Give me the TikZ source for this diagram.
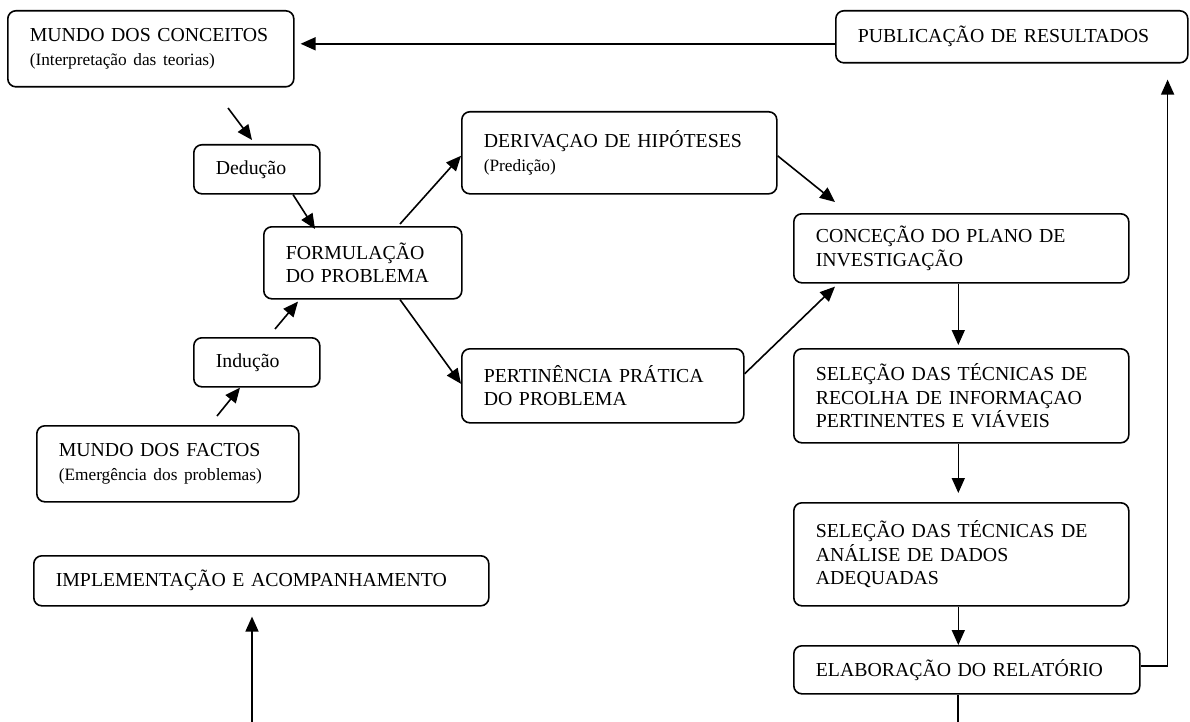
\documentclass[tikz,border=0pt]{standalone}
\usepackage{fontspec}
\setmainfont{Liberation Serif}
\usetikzlibrary{arrows.meta,calc}
\newcommand\subtxt{\fontsize{17.3}{20}\selectfont}
\begin{document}
\begin{tikzpicture}[x=1pt,y=1pt,
  box/.style={draw, line width=1.6pt, rounded corners=8pt, anchor=north west,
    inner xsep=22pt, inner ysep=0pt, align=left,
    font=\fontsize{19.8}{23.5}\selectfont},
  arr/.style={line width=1.6pt, -{Triangle[length=15pt,width=13pt]}},
  ln/.style={line width=1.6pt}]
\useasboundingbox (0,0) rectangle (1190,-722);

\node[box, text width=242pt, minimum height=76pt] (concept) at (7,-10)
  {MUNDO DOS CONCEITOS\\{\subtxt (Interpretação das teorias)}};
\node[box, text width=308pt, minimum height=52pt] (pub) at (835,-10)
  {PUBLICAÇÃO DE RESULTADOS};
\node[box, text width=82pt, minimum height=49pt] (ded) at (193,-144) {Dedução};
\node[box, text width=154pt, minimum height=72pt] (form) at (263,-226)
  {FORMULAÇÃO\\DO PROBLEMA};
\node[box, text width=82pt, minimum height=49pt] (ind) at (193,-337) {Indução};
\node[box, text width=218pt, minimum height=76pt] (facts) at (36,-425)
  {MUNDO DOS FACTOS\\{\subtxt \mbox{(Emergência dos problemas)}}};
\node[box, text width=271pt, minimum height=82pt] (deriv) at (461,-111)
  {DERIVAÇAO DE HIPÓTESES\\{\subtxt (Predição)}};
\node[box, text width=238pt, minimum height=74pt] (pert) at (461,-348)
  {PERTINÊNCIA PRÁTICA\\DO PROBLEMA};
\node[box, text width=291pt, minimum height=69pt] (conc) at (793,-213)
  {CONCEÇÃO DO PLANO DE\\INVESTIGAÇÃO};
\node[box, text width=291pt, minimum height=94pt] (sel1) at (793,-348)
  {SELEÇÃO DAS TÉCNICAS DE\\RECOLHA DE INFORMAÇAO\\PERTINENTES E VIÁVEIS};
\node[box, text width=291pt, minimum height=103pt] (sel2) at (793,-502)
  {SELEÇÃO DAS TÉCNICAS DE\\ANÁLISE DE DADOS\\ADEQUADAS};
\node[box, text width=302pt, minimum height=48pt] (elab) at (793,-645)
  {ELABORAÇÃO DO RELATÓRIO};
\node[box, text width=411pt, minimum height=50pt] (impl) at (33,-555)
  {IMPLEMENTAÇÃO E ACOMPANHAMENTO};

\coordinate (bottomA) at (252,-722);

% connectors
\draw[arr, shorten >=6pt] ([yshift=-7pt]pub.west) -- ([yshift=-7pt]pub.west -| concept.east);
\draw[arr] ($(ded.north west)+(35,36)$) -- ($(ded.north west)+(59,4)$);
\draw[arr] ($(ded.south west)+(100,0)$) -- ($(form.north west)+(52,-3)$);
\draw[arr] ($(ind.north west)+(82,8)$) -- ($(form.south west)+(35,-2)$);
\draw[arr] ($(facts.north west)+(181,9)$) -- ($(ind.south west)+(47,0)$);
\draw[arr] ($(form.north west)+(137,2)$) -- ([yshift=-3pt]deriv.west);
\draw[arr] ($(form.south west)+(137,0)$) -- ([yshift=2pt]pert.west);
\draw[arr] ([yshift=-3pt]deriv.east) -- ($(conc.north west)+(42,11)$);
\draw[arr] ([yshift=12pt]pert.east) -- ($(conc.south west)+(42,-3)$);
\draw[arr, shorten >=3pt] ([xshift=-3pt]conc.south) -- ([xshift=-3pt]conc.south |- sel1.north);
\draw[arr, shorten >=9pt] ([xshift=-3pt]sel1.south) -- ([xshift=-3pt]sel1.south |- sel2.north);
\draw[arr] ([xshift=-3pt]sel2.south) -- ([xshift=-3pt]sel2.south |- elab.north);
\draw[arr] ([yshift=4pt]elab.east) -| ($(pub.south east)+(-21,-16)$);
\draw[ln] ([xshift=-9pt]elab.south) -- ++(0,-30);
\draw[arr, shorten >=10pt] (bottomA) -- (bottomA |- impl.south);
\end{tikzpicture}
\end{document}
